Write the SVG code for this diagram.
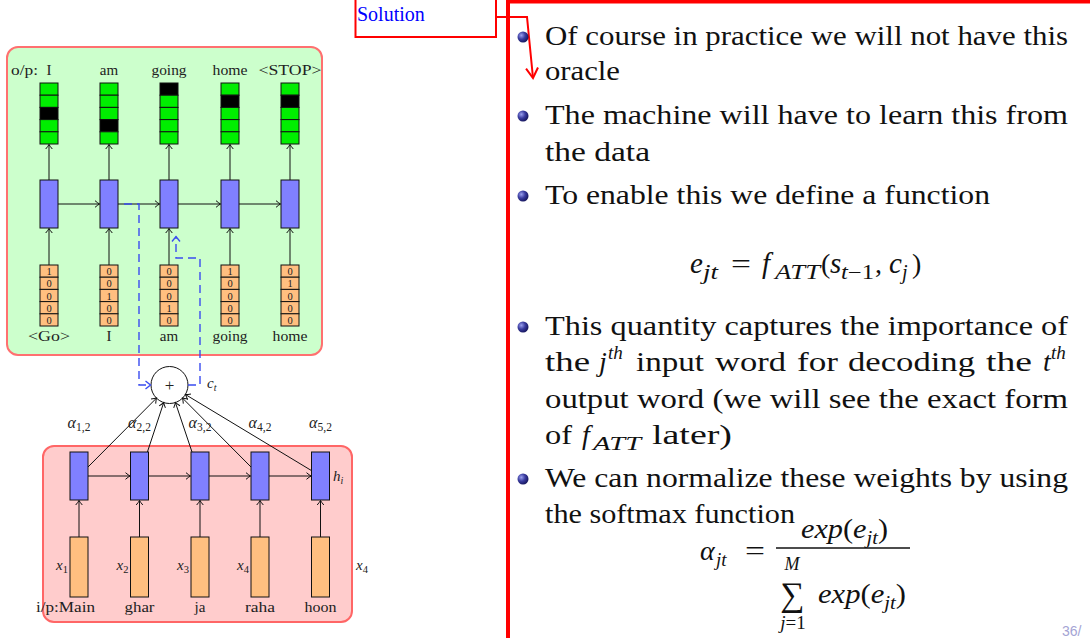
<svg xmlns="http://www.w3.org/2000/svg" width="1090" height="638" viewBox="0 0 1090 638">
<style>
.lbl{font-family:"Liberation Serif",serif;font-size:15px;fill:#222;text-anchor:middle}
.it{font-style:italic}
.dig{font-family:"Liberation Serif",serif;font-size:10.5px;fill:#222;text-anchor:middle}
.g{fill:#00ee00;stroke:#111;stroke-width:1}
.k{fill:#000;stroke:#111;stroke-width:1}
.o{fill:#ffbf80;stroke:#111;stroke-width:1}
.b{fill:#8080ff;stroke:#111;stroke-width:1}
.ar{stroke:#111;stroke-width:1;fill:none;marker-end:url(#ah)}
.da{stroke:#3a4cf0;stroke-width:1.4;fill:none;stroke-dasharray:8,5;marker-end:url(#ahb)}
.tx{font-family:"Liberation Serif",serif;font-size:28px;fill:#111}
.mi{font-family:"Liberation Serif",serif;font-style:italic;fill:#111}
</style>
<defs>
<marker id="ah" viewBox="-6 -5 8 10" markerWidth="8" markerHeight="10" refX="0" refY="0" orient="auto" markerUnits="userSpaceOnUse"><path d="M-4.5,-3.3 Q-1.5,-0.8 0,0 Q-1.5,0.8 -4.5,3.3" fill="none" stroke="#111" stroke-width="1"/></marker>
<marker id="ahb" viewBox="-6 -5 8 10" markerWidth="8" markerHeight="10" refX="0" refY="0" orient="auto" markerUnits="userSpaceOnUse"><path d="M-5,-4 L0,0 L-5,4" fill="none" stroke="#3a4cf0" stroke-width="1.4"/></marker>
<marker id="ahr" viewBox="-12 -8 14 16" markerWidth="14" markerHeight="16" refX="0" refY="0" orient="auto" markerUnits="userSpaceOnUse"><path d="M-10,-6 L0,0 L-10,6" fill="none" stroke="#ff0000" stroke-width="2"/></marker>
<radialGradient id="ball" cx="0.35" cy="0.35" r="0.7"><stop offset="0" stop-color="#9aa0ee"/><stop offset="0.5" stop-color="#3a3ca0"/><stop offset="1" stop-color="#14145a"/></radialGradient>
</defs>

<!-- containers -->
<g id="decoder-box"><rect x="7" y="47" width="315" height="308" rx="11" fill="#ccffcc" stroke="#ff7070" stroke-width="2"/></g>
<g id="encoder-box"><rect x="43" y="446" width="309" height="176" rx="11" fill="#ffcccc" stroke="#ff6666" stroke-width="2"/></g>

<!-- output one-hot vectors -->
<g id="out-1"><rect class="g" x="40" y="83" width="18" height="12.2"/><rect class="g" x="40" y="95.2" width="18" height="12.2"/><rect class="k" x="40" y="107.4" width="18" height="12.2"/><rect class="g" x="40" y="119.6" width="18" height="12.2"/><rect class="g" x="40" y="131.8" width="18" height="12.2"/></g>
<g id="out-2"><rect class="g" x="100" y="83" width="18" height="12.2"/><rect class="g" x="100" y="95.2" width="18" height="12.2"/><rect class="g" x="100" y="107.4" width="18" height="12.2"/><rect class="k" x="100" y="119.6" width="18" height="12.2"/><rect class="g" x="100" y="131.8" width="18" height="12.2"/></g>
<g id="out-3"><rect class="k" x="160" y="83" width="18" height="12.2"/><rect class="g" x="160" y="95.2" width="18" height="12.2"/><rect class="g" x="160" y="107.4" width="18" height="12.2"/><rect class="g" x="160" y="119.6" width="18" height="12.2"/><rect class="g" x="160" y="131.8" width="18" height="12.2"/></g>
<g id="out-4"><rect class="g" x="221" y="83" width="18" height="12.2"/><rect class="k" x="221" y="95.2" width="18" height="12.2"/><rect class="g" x="221" y="107.4" width="18" height="12.2"/><rect class="g" x="221" y="119.6" width="18" height="12.2"/><rect class="g" x="221" y="131.8" width="18" height="12.2"/></g>
<g id="out-5"><rect class="g" x="281" y="83" width="18" height="12.2"/><rect class="k" x="281" y="95.2" width="18" height="12.2"/><rect class="g" x="281" y="107.4" width="18" height="12.2"/><rect class="g" x="281" y="119.6" width="18" height="12.2"/><rect class="g" x="281" y="131.8" width="18" height="12.2"/></g>
<g id="out-labels">
<text class="lbl" x="11" y="75" style="text-anchor:start" textLength="27" lengthAdjust="spacingAndGlyphs">o/p:</text>
<text class="lbl" x="49" y="75">I</text>
<text class="lbl" x="109" y="75">am</text>
<text class="lbl" x="169" y="75" textLength="35" lengthAdjust="spacingAndGlyphs">going</text>
<text class="lbl" x="230" y="75" textLength="35" lengthAdjust="spacingAndGlyphs">home</text>
<text class="lbl" x="290" y="75" textLength="63" lengthAdjust="spacingAndGlyphs">&lt;STOP&gt;</text>
</g>

<!-- decoder RNN blocks -->
<g id="dec-1"><rect class="b" x="40" y="180" width="18" height="48"/></g>
<g id="dec-2"><rect class="b" x="100" y="180" width="18" height="48"/></g>
<g id="dec-3"><rect class="b" x="160" y="180" width="18" height="48"/></g>
<g id="dec-4"><rect class="b" x="221" y="180" width="18" height="48"/></g>
<g id="dec-5"><rect class="b" x="281" y="180" width="18" height="48"/></g>

<!-- decoder inputs -->
<g id="in-1"><rect class="o" x="40" y="265" width="18" height="12.2"/><rect class="o" x="40" y="277.2" width="18" height="12.2"/><rect class="o" x="40" y="289.4" width="18" height="12.2"/><rect class="o" x="40" y="301.6" width="18" height="12.2"/><rect class="o" x="40" y="313.8" width="18" height="12.2"/>
<text class="dig" x="49" y="275.2">1</text><text class="dig" x="49" y="287.4">0</text><text class="dig" x="49" y="299.6">0</text><text class="dig" x="49" y="311.8">0</text><text class="dig" x="49" y="324">0</text></g>
<g id="in-2"><rect class="o" x="100" y="265" width="18" height="12.2"/><rect class="o" x="100" y="277.2" width="18" height="12.2"/><rect class="o" x="100" y="289.4" width="18" height="12.2"/><rect class="o" x="100" y="301.6" width="18" height="12.2"/><rect class="o" x="100" y="313.8" width="18" height="12.2"/>
<text class="dig" x="109" y="275.2">0</text><text class="dig" x="109" y="287.4">0</text><text class="dig" x="109" y="299.6">1</text><text class="dig" x="109" y="311.8">0</text><text class="dig" x="109" y="324">0</text></g>
<g id="in-3"><rect class="o" x="160" y="265" width="18" height="12.2"/><rect class="o" x="160" y="277.2" width="18" height="12.2"/><rect class="o" x="160" y="289.4" width="18" height="12.2"/><rect class="o" x="160" y="301.6" width="18" height="12.2"/><rect class="o" x="160" y="313.8" width="18" height="12.2"/>
<text class="dig" x="169" y="275.2">0</text><text class="dig" x="169" y="287.4">0</text><text class="dig" x="169" y="299.6">0</text><text class="dig" x="169" y="311.8">1</text><text class="dig" x="169" y="324">0</text></g>
<g id="in-4"><rect class="o" x="221" y="265" width="18" height="12.2"/><rect class="o" x="221" y="277.2" width="18" height="12.2"/><rect class="o" x="221" y="289.4" width="18" height="12.2"/><rect class="o" x="221" y="301.6" width="18" height="12.2"/><rect class="o" x="221" y="313.8" width="18" height="12.2"/>
<text class="dig" x="230" y="275.2">1</text><text class="dig" x="230" y="287.4">0</text><text class="dig" x="230" y="299.6">0</text><text class="dig" x="230" y="311.8">0</text><text class="dig" x="230" y="324">0</text></g>
<g id="in-5"><rect class="o" x="281" y="265" width="18" height="12.2"/><rect class="o" x="281" y="277.2" width="18" height="12.2"/><rect class="o" x="281" y="289.4" width="18" height="12.2"/><rect class="o" x="281" y="301.6" width="18" height="12.2"/><rect class="o" x="281" y="313.8" width="18" height="12.2"/>
<text class="dig" x="290" y="275.2">0</text><text class="dig" x="290" y="287.4">1</text><text class="dig" x="290" y="299.6">0</text><text class="dig" x="290" y="311.8">0</text><text class="dig" x="290" y="324">0</text></g>
<g id="in-labels">
<text class="lbl" x="49" y="341" textLength="42" lengthAdjust="spacingAndGlyphs">&lt;Go&gt;</text>
<text class="lbl" x="109" y="341">I</text>
<text class="lbl" x="169" y="341">am</text>
<text class="lbl" x="230" y="341" textLength="35" lengthAdjust="spacingAndGlyphs">going</text>
<text class="lbl" x="290" y="341" textLength="35" lengthAdjust="spacingAndGlyphs">home</text>
</g>

<!-- attention sum node -->
<g id="sum"><circle cx="169.5" cy="385" r="18.5" fill="#fff" stroke="#111" stroke-width="1"/>
<text class="lbl" x="169.5" y="390.5" style="font-size:17px">+</text>
<text class="lbl it" x="207" y="388" style="text-anchor:start;font-size:15px">c<tspan font-size="10" dy="3">t</tspan></text></g>

<!-- alpha labels -->
<g id="alphas">
<text class="lbl it" x="79" y="428" style="font-size:16px">α<tspan font-size="11.5" dy="3" font-style="normal">1,2</tspan></text>
<text class="lbl it" x="139.5" y="428" style="font-size:16px">α<tspan font-size="11.5" dy="3" font-style="normal">2,2</tspan></text>
<text class="lbl it" x="200" y="428" style="font-size:16px">α<tspan font-size="11.5" dy="3" font-style="normal">3,2</tspan></text>
<text class="lbl it" x="260" y="428" style="font-size:16px">α<tspan font-size="11.5" dy="3" font-style="normal">4,2</tspan></text>
<text class="lbl it" x="320.5" y="428" style="font-size:16px">α<tspan font-size="11.5" dy="3" font-style="normal">5,2</tspan></text>
</g>

<!-- encoder blocks -->
<g id="enc-1"><rect class="b" x="70" y="452" width="18" height="48"/></g>
<g id="enc-2"><rect class="b" x="130.5" y="452" width="18" height="48"/></g>
<g id="enc-3"><rect class="b" x="191" y="452" width="18" height="48"/></g>
<g id="enc-4"><rect class="b" x="251" y="452" width="18" height="48"/></g>
<g id="enc-5"><rect class="b" x="311.5" y="452" width="18" height="48"/>
<text class="lbl it" x="333" y="481" style="text-anchor:start;font-size:15px">h<tspan font-size="10" dy="3">i</tspan></text></g>

<!-- encoder inputs -->
<g id="x-1"><rect class="o" x="70" y="537" width="18" height="60"/><text class="lbl it" x="68" y="570" style="text-anchor:end;font-size:15px">x<tspan font-size="10.5" dy="3" font-style="normal">1</tspan></text></g>
<g id="x-2"><rect class="o" x="130.5" y="537" width="18" height="60"/><text class="lbl it" x="128.5" y="570" style="text-anchor:end;font-size:15px">x<tspan font-size="10.5" dy="3" font-style="normal">2</tspan></text></g>
<g id="x-3"><rect class="o" x="191" y="537" width="18" height="60"/><text class="lbl it" x="189" y="570" style="text-anchor:end;font-size:15px">x<tspan font-size="10.5" dy="3" font-style="normal">3</tspan></text></g>
<g id="x-4"><rect class="o" x="251" y="537" width="18" height="60"/><text class="lbl it" x="249" y="570" style="text-anchor:end;font-size:15px">x<tspan font-size="10.5" dy="3" font-style="normal">4</tspan></text></g>
<g id="x-5"><rect class="o" x="311.5" y="537" width="18" height="60"/><text class="lbl it" x="356" y="570" style="text-anchor:start;font-size:15px">x<tspan font-size="10.5" dy="3" font-style="normal">4</tspan></text></g>
<g id="enc-labels">
<text class="lbl" x="36" y="612" style="text-anchor:start" textLength="59" lengthAdjust="spacingAndGlyphs">i/p:Main</text>
<text class="lbl" x="139.5" y="612" textLength="30" lengthAdjust="spacingAndGlyphs">ghar</text>
<text class="lbl" x="200" y="612">ja</text>
<text class="lbl" x="260" y="612" textLength="30" lengthAdjust="spacingAndGlyphs">raha</text>
<text class="lbl" x="320.5" y="612" textLength="32" lengthAdjust="spacingAndGlyphs">hoon</text>
</g>

<!-- connectors -->
<g id="connectors">
<path class="ar" d="M49,180V144.5"/><path class="ar" d="M109,180V144.5"/><path class="ar" d="M169,180V144.5"/><path class="ar" d="M230,180V144.5"/><path class="ar" d="M290,180V144.5"/>
<path class="ar" d="M49,265V228.5"/><path class="ar" d="M109,265V228.5"/><path class="ar" d="M169,265V228.5"/><path class="ar" d="M230,265V228.5"/><path class="ar" d="M290,265V228.5"/>
<path class="ar" d="M58,204H99.5"/><path class="ar" d="M118,204H159.5"/><path class="ar" d="M178,204H220.5"/><path class="ar" d="M239,204H280.5"/>
<path class="da" d="M124,204H139V385H150.5"/>
<path class="da" d="M188,385H200V258H176V236.5"/>
<path class="ar" d="M79,537V500.5"/><path class="ar" d="M139.5,537V500.5"/><path class="ar" d="M200,537V500.5"/><path class="ar" d="M260,537V500.5"/><path class="ar" d="M320.5,537V500.5"/>
<path class="ar" d="M88,476H130"/><path class="ar" d="M148.5,476H190.5"/><path class="ar" d="M209,476H250.5"/><path class="ar" d="M269,476H311"/>
<path class="ar" d="M88,467L156.5,398.1"/>
<path class="ar" d="M147.4,452L163.7,402.6"/>
<path class="ar" d="M192,452L175.4,402.5"/>
<path class="ar" d="M251,467L182.5,398.1"/>
<path class="ar" d="M311.5,470.6L185.4,394.5"/>
<path d="M496,17H527L533,78" fill="none" stroke="#ff0000" stroke-width="2" marker-end="url(#ahr)"/>
</g>

<!-- solution box -->
<g id="solution"><rect x="355.5" y="-1" width="140.5" height="38" fill="none" stroke="#ff0000" stroke-width="2"/>
<text x="357" y="21" font-family="Liberation Serif, serif" font-size="20" fill="#0000ff">Solution</text></g>

<!-- slide text frame -->
<g id="frame"><rect x="508" y="1.5" width="620" height="700" fill="none" stroke="#ff0000" stroke-width="4"/></g>

<g id="bullets">
<circle cx="523" cy="37" r="5.5" fill="url(#ball)"/>
<circle cx="523" cy="116" r="5.5" fill="url(#ball)"/>
<circle cx="523" cy="196" r="5.5" fill="url(#ball)"/>
<circle cx="523" cy="327" r="5.5" fill="url(#ball)"/>
<circle cx="523" cy="479" r="5.5" fill="url(#ball)"/>
</g>

<g id="text" font-family="Liberation Serif, serif">
<text class="tx" x="545" y="45" textLength="523" lengthAdjust="spacingAndGlyphs">Of course in practice we will not have this</text>
<text class="tx" x="545" y="80" textLength="75" lengthAdjust="spacingAndGlyphs">oracle</text>
<text class="tx" x="545" y="124" textLength="523" lengthAdjust="spacingAndGlyphs">The machine will have to learn this from</text>
<text class="tx" x="545" y="161" textLength="105" lengthAdjust="spacingAndGlyphs">the data</text>
<text class="tx" x="545" y="204" textLength="445" lengthAdjust="spacingAndGlyphs">To enable this we define a function</text>
<text class="tx" x="545" y="335" textLength="523" lengthAdjust="spacingAndGlyphs">This quantity captures the importance of</text>
<text class="tx" x="545" y="371" textLength="45" lengthAdjust="spacingAndGlyphs">the</text>
<text class="mi" x="599" y="371" font-size="28">j</text>
<text class="mi" x="608" y="359" font-size="19">th</text>
<text class="tx" x="636" y="371" textLength="68" lengthAdjust="spacingAndGlyphs">input</text>
<text class="tx" x="715" y="371" textLength="71" lengthAdjust="spacingAndGlyphs">word</text>
<text class="tx" x="797" y="371" textLength="41" lengthAdjust="spacingAndGlyphs">for</text>
<text class="tx" x="848" y="371" textLength="127" lengthAdjust="spacingAndGlyphs">decoding</text>
<text class="tx" x="986" y="371" textLength="46" lengthAdjust="spacingAndGlyphs">the</text>
<text class="mi" x="1043" y="371" font-size="28">t</text>
<text class="mi" x="1051" y="359" font-size="19">th</text>
<text class="tx" x="545" y="408" textLength="523" lengthAdjust="spacingAndGlyphs">output word (we will see the exact form</text>
<text class="tx" x="545" y="444" textLength="27" lengthAdjust="spacingAndGlyphs">of</text>
<text class="mi" x="582" y="444" font-size="28">f</text>
<text class="mi" x="593" y="450" font-size="19" textLength="48" lengthAdjust="spacingAndGlyphs">ATT</text>
<text class="tx" x="652" y="444" textLength="80" lengthAdjust="spacingAndGlyphs">later)</text>
<text class="tx" x="545" y="487" textLength="523" lengthAdjust="spacingAndGlyphs">We can normalize these weights by using</text>
<text class="tx" x="545" y="523" textLength="250" lengthAdjust="spacingAndGlyphs">the softmax function</text>
</g>

<g id="eq1" font-family="Liberation Serif, serif">
<text class="mi" x="690" y="273" font-size="29">e</text>
<text class="mi" x="703" y="279" font-size="20" textLength="15" lengthAdjust="spacingAndGlyphs">jt</text>
<text class="tx" x="731" y="273" textLength="20" lengthAdjust="spacingAndGlyphs">=</text>
<text class="mi" x="762" y="273" font-size="29">f</text>
<text class="mi" x="775" y="279" font-size="20" textLength="45" lengthAdjust="spacingAndGlyphs">ATT</text>
<text class="tx" x="821" y="273">(</text>
<text class="mi" x="830" y="273" font-size="29">s</text>
<text class="mi" x="841" y="279" font-size="20" textLength="33" lengthAdjust="spacingAndGlyphs">t<tspan font-style="normal">−1</tspan></text>
<text class="tx" x="875" y="273">,</text>
<text class="mi" x="889" y="273" font-size="29">c</text>
<text class="mi" x="902" y="279" font-size="20">j</text>
<text class="tx" x="912" y="273">)</text>
</g>

<g id="eq2" font-family="Liberation Serif, serif">
<text class="mi" x="700" y="560" font-size="28">α</text>
<text class="mi" x="716" y="566" font-size="19">jt</text>
<text class="tx" x="745" y="560" textLength="20" lengthAdjust="spacingAndGlyphs">=</text>
<line x1="776" y1="548" x2="910" y2="548" stroke="#111" stroke-width="1.3"/>
<text class="tx" x="801" y="538" textLength="87" lengthAdjust="spacingAndGlyphs"><tspan font-style="italic">exp</tspan>(<tspan font-style="italic">e</tspan><tspan font-style="italic" font-size="19" dy="6">jt</tspan><tspan dy="-6">)</tspan></text>
<text class="mi" x="792" y="570" font-size="18" text-anchor="middle">M</text>
<text class="tx" x="792" y="606" text-anchor="middle" style="font-size:34px">∑</text>
<text class="tx" x="793" y="629" style="font-size:19px" text-anchor="middle"><tspan font-style="italic">j</tspan>=1</text>
<text class="tx" x="818" y="603" textLength="88" lengthAdjust="spacingAndGlyphs"><tspan font-style="italic">exp</tspan>(<tspan font-style="italic">e</tspan><tspan font-style="italic" font-size="19" dy="6">jt</tspan><tspan dy="-6">)</tspan></text>
</g>

<g id="page"><text x="1062" y="636" font-family="Liberation Sans, sans-serif" font-size="14" fill="#a4a4d4">36/</text></g>
</svg>
